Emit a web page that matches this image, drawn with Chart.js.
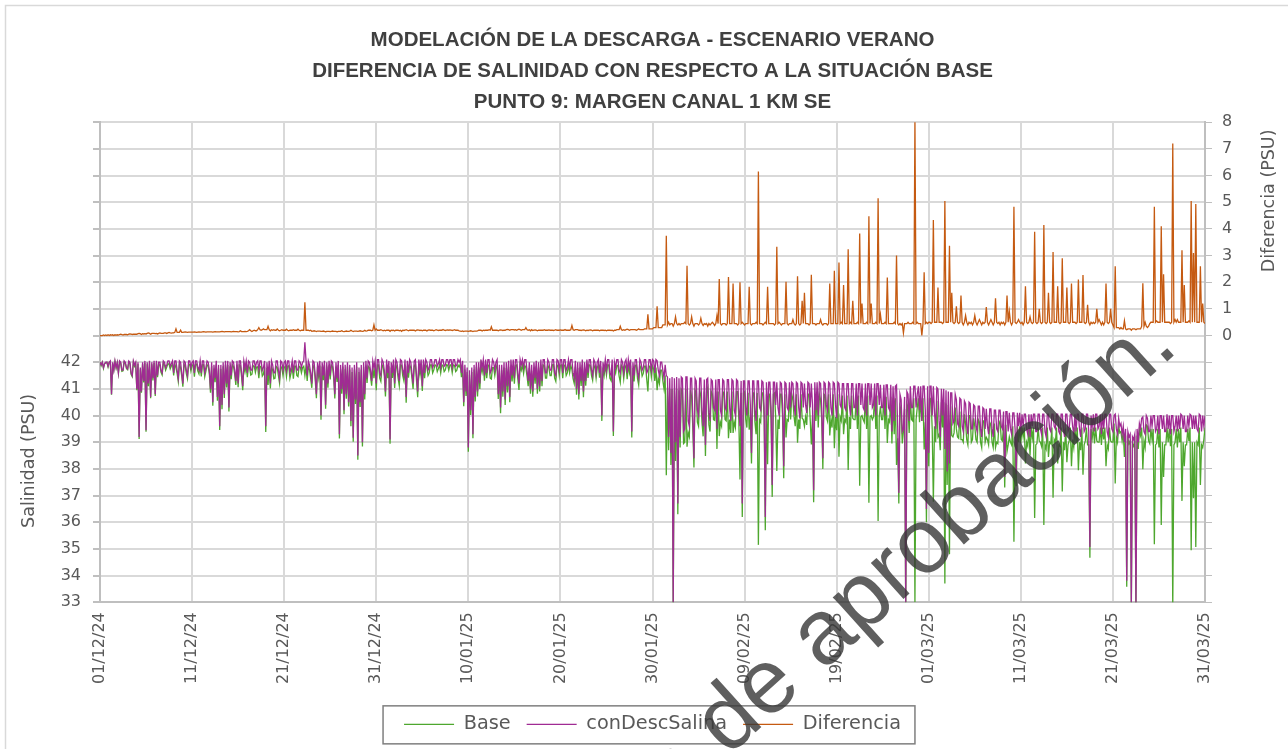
<!DOCTYPE html>
<html lang="es">
<head>
<meta charset="utf-8">
<title>Modelación de la descarga - Escenario verano</title>
<script src="https://cdn.jsdelivr.net/npm/chart.js@4.4.1/dist/chart.umd.min.js"></script>
<style>
  html, body { margin: 0; padding: 0; background: #fff; }
  #wrap { position: relative; width: 1288px; height: 749px; overflow: hidden; }
</style>
</head>
<body>
<div id="wrap"><canvas id="salinityChart" width="1288" height="749"></canvas></div>
<script>
// etiquetas del eje X, una cada 10 días desde el 01/12/24
const tickLabels = ['01/12/24', '11/12/24', '21/12/24', '31/12/24', '10/01/25', '20/01/25', '30/01/25',
  '09/02/25', '19/02/25', '01/03/25', '11/03/25', '21/03/25', '31/03/25'];

// salinidad con descarga (PSU), 8 valores por día (cada 3 h) desde el 01/12/24
const conDescDays = [
  // 01/12
  [42.0,41.9,42.0,41.8,41.95,42.0,42.0,41.85],[42.0,42.05,40.8,42.0,41.7,42.05,41.8,42.0],
  [41.6,42.05,42.0,41.7,41.7,42.05,42.0,41.8],[41.75,42.05,42.0,41.6,41.5,42.05,41.9,42.0],
  [41.0,42.0,39.2,41.8,40.9,42.0,41.3,42.05],[39.45,42.0,41.2,42.05,40.7,42.0,41.4,42.05],
  [40.8,42.05,41.5,42.0,42.0,41.7,41.6,42.05],[42.0,41.8,41.9,42.05,42.05,41.85,41.95,42.05],
  [41.6,42.05,42.05,41.7,41.4,42.05,42.0,41.6],[41.2,42.05,42.0,41.7,41.5,42.05,42.05,41.8],
  // 11/12
  [42.0,42.05,41.6,42.05,42.05,41.8,41.7,42.05],[41.6,42.05,42.05,41.6,41.8,42.05,42.0,41.7],
  [41.0,42.0,40.5,41.9,41.4,42.05,40.7,41.9],[39.6,41.9,40.4,42.0,40.8,42.05,41.2,42.05],
  [40.3,42.0,41.5,42.05,42.0,41.7,41.3,42.05],[41.2,42.05,42.05,41.6,41.1,42.05,41.8,42.05],
  [41.6,42.05,42.0,41.7,41.7,42.05,42.05,41.8],[42.0,42.05,41.7,42.05,42.05,41.7,41.8,42.05],
  [39.6,42.0,41.5,42.05,41.2,42.05,41.9,41.6],[41.6,42.05,42.05,41.7,41.4,42.05,42.0,41.7],
  // 21/12
  [42.0,42.05,41.7,42.05,42.05,41.6,41.8,42.05],[41.6,42.05,42.05,41.7,41.7,42.05,42.0,41.8],
  [42.0,42.05,42.75,42.05,41.5,42.05,41.9,41.6],[41.2,42.05,42.0,41.5,40.8,42.0,41.6,42.05],
  [40.0,42.0,41.5,42.05,40.4,42.0,41.2,42.05],[41.5,42.05,42.0,41.6,40.8,42.0,41.4,42.05],
  [39.3,41.9,41.0,42.0,40.2,41.9,40.8,42.0],[40.5,41.9,39.8,41.8,39.17,41.9,40.6,42.0],
  [38.5,41.8,40.5,41.9,39.0,42.0,40.8,42.05],[41.4,42.05,42.0,41.7,41.3,42.05,41.8,42.05],
  // 31/12
  [41.2,42.1,42.1,41.6,41.5,42.1,42.0,41.7],[40.9,42.1,41.6,42.05,39.1,42.0,41.6,42.1],
  [41.2,42.1,42.0,41.6,41.3,42.1,42.05,41.7],[41.5,42.1,40.7,42.05,41.6,42.1,42.0,41.6],
  [41.2,42.05,42.1,41.5,40.9,42.1,41.7,42.1],[41.1,42.1,41.6,42.1,42.0,41.7,41.8,42.1],
  [42.1,41.8,41.9,42.1,42.1,41.85,41.95,42.1],[41.8,42.1,42.1,41.85,41.9,42.1,42.1,41.9],
  [42.1,42.1,41.8,42.1,42.1,41.85,41.9,42.1],[42.0,42.1,41.6,42.05,40.5,41.9,40.9,41.8],
  // 10/01
  [38.8,41.7,40.2,41.8,39.3,41.9,40.7,42.0],[40.9,42.0,41.2,42.1,41.8,42.1,41.5,42.1],
  [41.6,42.1,42.1,41.6,41.7,42.1,42.0,41.7],[42.0,42.1,40.8,41.9,40.3,41.9,40.9,42.0],
  [40.6,42.0,41.1,42.05,40.7,42.1,41.5,42.1],[41.4,42.1,42.1,41.6,41.2,42.1,41.9,42.1],
  [41.8,42.1,42.1,41.7,41.3,42.0,41.0,41.9],[40.9,42.0,41.4,42.05,41.0,42.0,41.1,42.1],
  [41.3,42.1,42.1,41.6,41.6,42.1,42.0,41.7],[41.7,42.1,42.1,41.6,41.5,42.1,42.05,41.7],
  // 20/01
  [42.1,42.1,41.6,42.1,42.1,41.7,41.8,42.1],[41.8,42.1,42.1,41.6,41.4,42.05,41.0,42.0],
  [40.8,42.0,41.3,42.1,40.9,42.0,41.3,42.1],[41.6,42.1,42.1,41.7,41.5,42.1,42.0,41.6],
  [42.0,42.1,41.6,42.05,40.0,42.0,41.7,42.1],[41.7,42.1,42.1,41.6,41.5,42.1,39.4,42.0],
  [41.8,42.1,42.1,41.7,41.6,42.1,42.0,41.6],[42.0,42.1,41.6,42.1,41.8,42.1,39.4,42.0],
  [41.5,42.1,42.1,41.6,41.4,42.1,42.0,41.7],[41.8,42.1,42.1,41.6,41.7,42.1,42.1,41.7],
  // 30/01
  [42.1,42.05,41.6,42.1,42.05,41.7,41.5,42.0],[42.0,41.7,41.4,41.9,41.5,41.45,39.2,41.4],
  [38.6,41.45,33.0,41.4,39.0,41.45,36.7,41.4],[39.2,41.45,41.4,39.4,39.5,41.45,41.45,39.8],
  [39.6,41.4,41.4,40.0,38.4,41.4,41.3,40.2],[40.0,41.4,41.4,40.2,39.6,41.35,38.9,41.35],
  [41.4,40.1,39.8,41.35,41.3,40.3,40.2,41.35],[39.5,41.35,41.35,40.2,40.0,41.35,41.3,40.3],
  [40.2,41.35,41.35,40.3,39.8,41.35,41.3,40.2],[40.0,41.35,41.3,40.3,39.6,41.3,36.7,41.3],
  // 09/02
  [41.3,40.3,40.0,41.3,41.3,40.4,38.6,41.3],[41.3,40.2,39.8,41.3,41.3,40.3,40.2,41.3],
  [41.25,40.3,36.2,41.25,40.0,41.25,41.25,40.3],[37.4,41.25,41.25,40.4,41.25,40.3,40.0,41.25],
  [41.2,40.4,38.1,41.25,41.2,40.3,40.2,41.25],[40.3,41.25,41.2,40.4,40.0,41.25,41.2,40.3],
  [39.9,41.25,41.2,40.3,41.2,40.4,40.1,41.25],[41.2,40.3,41.2,40.4,37.2,41.25,40.2,41.25],
  [40.0,41.25,41.2,40.3,38.4,41.25,41.2,40.4],[40.2,41.25,41.2,40.3,40.0,41.25,41.2,40.4],
  // 19/02
  [39.9,41.25,41.2,40.4,40.3,41.2,41.2,40.3],[40.2,41.2,41.2,40.4,40.0,41.2,41.2,40.3],
  [40.3,41.2,40.0,41.2,41.2,40.4,41.2,40.3],[40.2,41.2,40.0,41.2,41.2,40.4,41.2,40.3],
  [40.4,41.2,40.0,41.2,41.2,40.4,41.15,40.3],[40.3,41.15,40.0,41.15,41.15,40.3,40.2,41.15],
  [39.4,41.1,39.8,41.1,41.15,39.6,37.1,40.8],[40.6,39.4,39.5,40.7,33.0,40.9,40.8,39.8],
  [41.1,40.3,40.3,41.1,41.1,40.3,40.8,41.1],[40.2,41.1,39.8,41.1,41.1,40.2,36.5,41.1],
  // 01/03
  [38.6,41.1,41.1,40.0,41.1,40.1,39.5,41.05],[41.0,39.8,39.2,41.0,40.0,41.0,38.75,40.95],
  [37.9,40.9,38.2,40.85,40.85,39.7,39.8,40.8],[40.6,39.7,39.6,40.65,40.6,39.6,39.4,40.55],
  [40.45,39.6,39.3,40.5,40.45,39.5,39.5,40.4],[40.35,39.6,39.4,40.35,40.35,39.5,39.2,40.3],
  [40.25,39.5,40.25,39.6,39.3,40.25,40.25,39.5],[39.2,40.2,40.2,39.5,39.4,40.2,40.2,39.6],
  [39.5,40.15,37.7,40.15,40.15,39.4,40.1,39.5],[39.3,40.1,40.1,39.5,37.8,40.1,39.6,40.1],
  // 11/03
  [39.4,40.05,39.6,40.05,40.05,39.5,39.3,40.05],[39.2,40.05,39.6,40.05,40.05,39.4,39.4,40.05],
  [40.05,39.5,39.3,40.05,40.05,39.4,39.2,40.05],[40.05,39.5,39.4,40.05,40.05,39.6,39.5,40.05],
  [40.05,39.4,39.3,40.05,40.05,39.5,39.2,40.05],[40.05,39.4,39.5,40.05,40.05,39.6,39.3,40.05],
  [39.4,40.05,40.05,39.5,39.2,40.05,40.05,39.4],[39.5,40.05,40.05,39.4,35.07,40.0,39.6,40.05],
  [39.4,40.05,40.05,39.5,39.6,40.05,39.3,40.05],[39.5,40.05,40.05,39.4,39.2,40.05,40.05,39.5],
  // 21/03
  [39.4,40.0,40.05,39.5,39.3,39.9,39.6,39.7],[39.3,39.6,39.0,39.5,33.8,39.4,39.2,39.3],
  [33.0,39.2,39.1,39.3,32.9,39.5,39.0,39.7],[39.5,39.9,39.95,39.4,39.3,40.0,39.9,39.4],
  [39.4,40.0,39.6,40.0,40.0,39.4,39.5,40.0],[39.3,40.0,40.0,39.5,40.0,39.4,39.4,40.05],
  [39.5,40.0,39.3,40.0,40.0,39.4,39.6,40.0],[39.4,40.0,39.5,40.05,40.0,39.5,40.0,39.4],
  [39.4,40.0,39.6,40.05,40.0,39.5,40.0,39.5],[40.0,39.5,39.4,40.05,40.0,39.4,40.0,39.6],
  // 31/03
  [40.0]
];

// salinidad situación base (PSU), mismos instantes
const baseDays = [
  // 01/12
  [42.0,41.87,42.0,41.77,41.95,41.97,42.0,41.82],[42.0,42.02,40.78,41.97,41.7,42.02,41.78,41.97],
  [41.58,42.01,41.95,41.66,41.68,42.01,41.96,41.76],[41.72,42.0,41.94,41.55,41.46,42.0,41.85,41.95],
  [40.95,41.93,39.12,41.73,40.86,41.93,41.24,41.98],[39.39,41.92,41.1,41.97,40.65,41.92,41.32,41.97],
  [40.73,41.97,41.44,41.92,41.9,41.62,41.52,41.97],[41.9,41.7,41.82,41.95,41.93,41.75,41.86,41.95],
  [41.5,41.93,41.8,41.58,41.28,41.93,41.8,41.48],[41.08,41.92,41.86,41.57,41.38,41.92,41.92,41.67],
  // 11/12
  [41.87,41.92,41.46,41.92,41.93,41.67,41.56,41.92],[41.47,41.91,41.9,41.46,41.67,41.91,41.86,41.56],
  [40.86,41.86,40.37,41.76,41.25,41.91,40.56,41.76],[39.46,41.75,40.24,41.85,40.66,41.9,41.05,41.9],
  [40.15,41.85,41.36,41.9,41.84,41.55,41.15,41.9],[41.06,41.9,41.87,41.45,40.95,41.9,41.64,41.9],
  [41.44,41.87,41.78,41.52,41.55,41.87,41.85,41.62],[41.82,41.83,41.4,41.83,41.85,41.48,41.55,41.83],
  [39.38,41.78,41.15,41.83,41.02,41.83,41.7,41.38],[41.4,41.85,41.8,41.5,41.22,41.85,41.78,41.5],
  // 21/12
  [41.8,41.85,41.46,41.85,41.87,41.4,41.6,41.85],[41.38,41.85,41.85,41.5,41.46,41.85,41.82,41.6],
  [41.8,41.85,41.5,41.85,41.3,41.85,41.72,41.4],[41.04,41.88,41.82,41.33,40.65,41.83,41.43,41.88],
  [39.84,41.84,41.33,41.89,40.26,41.84,41.04,41.89],[41.35,41.89,41.83,41.44,40.64,41.84,41.26,41.89],
  [39.14,41.74,40.82,41.84,40.05,41.74,40.63,41.84],[40.34,41.73,39.6,41.63,39.02,41.73,40.43,41.83],
  [38.34,41.63,40.32,41.73,38.84,41.83,40.6,41.88],[41.22,41.85,41.8,41.5,41.12,41.85,41.4,41.85],
  // 31/12
  [40.95,41.9,41.9,41.4,41.28,41.9,41.82,41.5],[40.72,41.9,41.4,41.85,38.94,41.8,41.41,41.9],
  [41.03,41.9,41.8,41.4,41.12,41.9,41.89,41.5],[41.31,41.9,40.48,41.85,41.42,41.9,41.8,41.4],
  [41.0,41.85,41.93,41.3,40.69,41.9,41.51,41.9],[40.92,41.9,41.4,41.9,41.83,41.5,41.59,41.9],
  [41.9,41.6,41.72,41.9,41.88,41.65,41.76,41.9],[41.6,41.9,41.87,41.65,41.71,41.9,41.89,41.7],
  [41.89,41.9,41.61,41.9,41.88,41.65,41.7,41.9],[41.82,41.93,41.44,41.88,40.35,41.73,40.73,41.63],
  // 10/01
  [38.64,41.53,40.02,41.63,39.15,41.73,40.53,41.83],[40.72,41.8,41.0,41.9,41.63,41.9,41.31,41.9],
  [41.4,41.9,41.88,41.4,41.37,41.8,41.8,41.5],[41.8,41.9,40.62,41.7,40.09,41.7,40.71,41.8],
  [40.4,41.78,40.87,41.83,40.5,41.88,41.28,41.88],[41.19,41.88,41.9,41.38,40.96,41.88,41.7,41.88],
  [41.58,41.88,41.8,41.48,41.1,41.78,40.82,41.68],[40.71,41.8,41.19,41.85,40.82,41.8,40.9,41.9],
  [41.1,41.9,41.88,41.4,41.4,41.9,41.79,41.5],[41.5,41.9,41.91,41.4,41.28,41.9,41.85,41.5],
  // 20/01
  [41.89,41.9,41.4,41.9,41.87,41.5,41.6,41.9],[41.6,41.88,41.72,41.38,41.2,41.83,40.78,41.78],
  [40.6,41.8,41.11,41.9,40.69,41.8,41.12,41.9],[41.41,41.9,41.89,41.5,41.32,41.9,41.8,41.4],
  [41.8,41.9,41.42,41.85,39.8,41.8,41.51,41.9],[41.52,41.9,41.9,41.4,41.31,41.9,39.23,41.8],
  [41.6,41.88,41.88,41.48,41.25,41.88,41.8,41.38],[41.8,41.88,41.36,41.88,41.6,41.88,39.18,41.78],
  [41.28,41.88,41.9,41.38,41.15,41.88,41.78,41.48],[41.58,41.85,41.85,41.35,40.9,41.85,41.85,41.45],
  // 30/01
  [41.85,41.75,41.3,41.8,40.95,41.4,41.2,41.7],[41.7,41.3,41.0,41.5,37.76,41.05,38.7,41.0],
  [38.15,41.0,32.65,40.95,38.3,41.0,36.3,40.95],[38.8,41.0,40.95,38.95,39.0,41.0,38.83,39.35],
  [39.2,40.95,40.7,39.55,38.05,40.95,40.85,39.75],[39.6,40.95,40.75,39.75,39.22,40.9,38.48,40.9],
  [41.05,39.65,39.4,40.9,40.8,39.85,39.82,40.9],[38.75,40.9,39.23,39.75,39.6,40.9,40.85,39.85],
  [39.8,40.9,39.15,39.85,39.35,40.9,39.35,39.75],[39.55,40.9,40.9,39.85,37.6,40.85,36.2,40.85],
  // 09/02
  [40.9,39.85,39.55,40.85,39.47,39.95,38.2,40.85],[40.85,39.75,39.3,40.85,35.15,39.85,39.75,40.85],
  [40.85,39.85,35.7,40.8,38.17,40.8,40.8,39.85],[36.95,40.8,40.85,39.95,37.92,39.85,39.5,40.8],
  [40.8,39.95,37.65,40.8,39.18,39.85,39.8,40.8],[39.85,40.8,40.6,39.95,39.6,40.8,38.98,39.85],
  [39.5,40.8,39.9,39.85,39.6,39.95,39.65,40.8],[40.8,39.85,38.92,39.95,36.75,40.8,39.8,40.8],
  [39.55,40.8,40.6,39.85,38.0,40.8,40.75,39.95],[39.8,40.8,39.25,39.85,39.55,40.8,38.77,39.95],
  // 19/02
  [39.45,40.8,38.46,39.95,39.8,40.75,39.3,39.85],[39.75,40.75,37.96,39.95,39.5,40.75,39.9,39.85],
  [39.85,40.75,39.5,40.75,37.37,39.95,40.0,39.85],[39.75,40.75,39.5,40.75,36.73,39.95,40.0,39.85],
  [39.95,40.75,39.5,40.75,36.05,39.95,40.35,39.85],[39.85,40.7,39.5,40.7,38.97,39.85,39.75,40.7],
  [38.95,40.65,39.3,40.65,38.15,39.15,36.7,40.35],[40.2,38.95,39.4,40.25,32.55,40.45,40.3,39.35],
  [40.65,39.85,39.8,40.65,33.0,39.85,40.3,40.65],[39.75,40.65,39.8,40.65,38.73,39.75,36.0,40.65],
  // 01/03
  [38.1,40.6,40.65,39.5,36.77,39.6,39.0,40.55],[39.2,39.3,38.7,40.5,39.55,40.5,33.7,40.45],
  [37.4,40.4,34.8,40.35,39.25,39.2,39.35,40.3],[39.5,39.2,39.15,40.15,39.1,39.1,39.0,40.05],
  [39.7,39.1,38.9,40.0,40.0,39.0,39.1,39.9],[39.6,39.1,39.0,39.85,39.75,39.0,38.8,39.8],
  [39.8,39.0,39.18,39.1,38.9,39.75,39.65,39.0],[38.8,39.7,38.8,39.0,38.95,39.7,39.8,39.1],
  [39.05,39.65,37.3,39.65,38.65,38.9,39.2,39.0],[38.9,39.6,35.27,39.0,37.35,39.6,39.0,39.6],
  // 11/03
  [38.95,39.55,39.2,39.55,38.2,39.0,38.85,39.55],[38.5,39.55,39.15,39.55,36.16,38.9,38.95,39.55],
  [39.05,39.0,38.85,39.55,35.9,38.9,38.75,39.55],[38.45,39.0,38.95,39.55,36.92,39.1,39.0,39.55],
  [38.2,38.9,38.85,39.55,37.15,39.0,38.7,39.55],[38.25,38.9,39.05,39.55,38.1,39.1,38.8,39.55],
  [38.95,39.55,37.95,39.0,38.7,39.55,37.78,38.9],[39.05,39.55,38.9,38.9,34.67,39.5,39.15,39.55],
  [38.95,39.55,39.05,39.0,39.0,39.55,38.9,39.55],[39.1,39.55,38.1,38.9,38.75,39.55,39.05,39.0],
  // 21/03
  [39.0,39.7,37.45,39.2,39.0,39.6,39.35,39.4],[39.05,39.35,38.45,39.25,33.58,39.15,38.95,39.05],
  [32.8,38.95,38.85,39.05,32.68,39.25,38.75,39.45],[39.25,39.55,37.99,39.05,38.8,39.65,39.6,39.05],
  [38.95,39.5,39.1,39.5,35.17,38.9,38.95,39.5],[38.8,39.5,35.9,39.0,37.7,38.9,38.9,39.55],
  [39.0,39.5,38.85,39.5,32.8,38.9,39.0,39.5],[38.8,39.5,39.0,39.55,36.8,39.0,38.1,38.9],
  [38.9,39.5,39.05,39.55,34.95,39.0,36.9,39.0],[35.07,39.0,38.9,39.55,37.4,38.9,38.8,39.1],
  // 31/03
  [39.55]
];

// diferencia conDescSalina - Base (PSU), eje secundario, mismos instantes
const diferenciaDays = [
  // 01/12
  [0.0,0.0,0.0,0.02,0.0,0.02,0.0,0.03],[0.0,0.03,0.02,0.03,0.0,0.03,0.02,0.03],
  [0.02,0.04,0.05,0.04,0.02,0.04,0.04,0.04],[0.03,0.05,0.06,0.05,0.04,0.05,0.05,0.05],
  [0.05,0.07,0.08,0.07,0.04,0.07,0.06,0.07],[0.06,0.08,0.1,0.08,0.05,0.08,0.08,0.08],
  [0.07,0.08,0.06,0.08,0.1,0.08,0.08,0.08],[0.1,0.1,0.08,0.1,0.12,0.1,0.09,0.1],
  [0.1,0.12,0.25,0.12,0.12,0.12,0.2,0.12],[0.12,0.13,0.14,0.13,0.12,0.13,0.13,0.13],
  // 11/12
  [0.13,0.13,0.14,0.13,0.12,0.13,0.14,0.13],[0.13,0.14,0.15,0.14,0.13,0.14,0.14,0.14],
  [0.14,0.14,0.13,0.14,0.15,0.14,0.14,0.14],[0.14,0.15,0.16,0.15,0.14,0.15,0.15,0.15],
  [0.15,0.15,0.14,0.15,0.16,0.15,0.15,0.15],[0.14,0.15,0.18,0.15,0.15,0.15,0.16,0.15],
  [0.16,0.18,0.22,0.18,0.15,0.18,0.2,0.18],[0.18,0.22,0.3,0.22,0.2,0.22,0.25,0.22],
  [0.22,0.22,0.35,0.22,0.18,0.22,0.2,0.22],[0.2,0.2,0.25,0.2,0.18,0.2,0.22,0.2],
  // 21/12
  [0.2,0.2,0.24,0.2,0.18,0.2,0.2,0.2],[0.22,0.2,0.2,0.2,0.24,0.2,0.18,0.2],
  [0.2,0.2,1.25,0.2,0.2,0.2,0.18,0.2],[0.16,0.17,0.18,0.17,0.15,0.17,0.17,0.17],
  [0.16,0.16,0.17,0.16,0.14,0.16,0.16,0.16],[0.15,0.16,0.17,0.16,0.16,0.16,0.14,0.16],
  [0.16,0.16,0.18,0.16,0.15,0.16,0.17,0.16],[0.16,0.17,0.2,0.17,0.15,0.17,0.17,0.17],
  [0.16,0.17,0.18,0.17,0.16,0.17,0.2,0.17],[0.18,0.2,0.2,0.2,0.18,0.2,0.4,0.2],
  // 31/12
  [0.25,0.2,0.2,0.2,0.22,0.2,0.18,0.2],[0.18,0.2,0.2,0.2,0.16,0.2,0.19,0.2],
  [0.17,0.2,0.2,0.2,0.18,0.2,0.16,0.2],[0.19,0.2,0.22,0.2,0.18,0.2,0.2,0.2],
  [0.2,0.2,0.17,0.2,0.21,0.2,0.19,0.2],[0.18,0.2,0.2,0.2,0.17,0.2,0.21,0.2],
  [0.2,0.2,0.18,0.2,0.22,0.2,0.19,0.2],[0.2,0.2,0.23,0.2,0.19,0.2,0.21,0.2],
  [0.21,0.2,0.19,0.2,0.22,0.2,0.2,0.2],[0.18,0.17,0.16,0.17,0.15,0.17,0.17,0.17],
  // 10/01
  [0.16,0.17,0.18,0.17,0.15,0.17,0.17,0.17],[0.18,0.2,0.2,0.2,0.17,0.2,0.19,0.2],
  [0.2,0.2,0.22,0.2,0.33,0.2,0.2,0.2],[0.2,0.2,0.18,0.2,0.21,0.2,0.19,0.2],
  [0.2,0.22,0.23,0.22,0.2,0.22,0.22,0.22],[0.21,0.22,0.2,0.22,0.24,0.22,0.2,0.22],
  [0.22,0.22,0.3,0.22,0.2,0.22,0.18,0.22],[0.19,0.2,0.21,0.2,0.18,0.2,0.2,0.2],
  [0.2,0.2,0.22,0.2,0.2,0.2,0.21,0.2],[0.2,0.2,0.19,0.2,0.22,0.2,0.2,0.2],
  // 20/01
  [0.21,0.2,0.2,0.2,0.23,0.2,0.2,0.2],[0.2,0.22,0.38,0.22,0.2,0.22,0.22,0.22],
  [0.2,0.2,0.19,0.2,0.21,0.2,0.18,0.2],[0.19,0.2,0.21,0.2,0.18,0.2,0.2,0.2],
  [0.2,0.2,0.18,0.2,0.2,0.2,0.19,0.2],[0.18,0.2,0.2,0.2,0.19,0.2,0.17,0.2],
  [0.2,0.22,0.22,0.22,0.35,0.22,0.2,0.22],[0.2,0.22,0.24,0.22,0.2,0.22,0.22,0.22],
  [0.22,0.22,0.2,0.22,0.25,0.22,0.22,0.22],[0.22,0.25,0.25,0.25,0.8,0.25,0.25,0.25],
  // 30/01
  [0.25,0.3,0.3,0.3,1.1,0.3,0.3,0.3],[0.3,0.4,0.4,0.4,3.74,0.4,0.5,0.4],
  [0.45,0.45,0.35,0.45,0.7,0.45,0.4,0.45],[0.4,0.45,0.45,0.45,0.5,0.45,2.62,0.45],
  [0.4,0.45,0.7,0.45,0.35,0.45,0.45,0.45],[0.4,0.45,0.65,0.45,0.38,0.45,0.42,0.45],
  [0.35,0.45,0.4,0.45,0.5,0.45,0.38,0.45],[0.75,0.45,2.12,0.45,0.4,0.45,0.45,0.45],
  [0.4,0.45,2.2,0.45,0.45,0.45,1.95,0.45],[0.45,0.45,0.4,0.45,2.0,0.45,0.5,0.45],
  // 09/02
  [0.4,0.45,0.45,0.45,1.83,0.45,0.4,0.45],[0.45,0.45,0.5,0.45,6.15,0.45,0.45,0.45],
  [0.4,0.45,0.5,0.45,1.83,0.45,0.45,0.45],[0.45,0.45,0.4,0.45,3.33,0.45,0.5,0.45],
  [0.4,0.45,0.45,0.45,2.02,0.45,0.4,0.45],[0.45,0.45,0.6,0.45,0.4,0.45,2.22,0.45],
  [0.4,0.45,1.3,0.45,1.6,0.45,0.45,0.45],[0.4,0.45,2.28,0.45,0.45,0.45,0.4,0.45],
  [0.45,0.45,0.6,0.45,0.4,0.45,0.45,0.45],[0.4,0.45,1.95,0.45,0.45,0.45,2.43,0.45],
  // 19/02
  [0.45,0.45,2.74,0.45,0.5,0.45,1.9,0.45],[0.45,0.45,3.24,0.45,0.5,0.45,1.3,0.45],
  [0.45,0.45,0.5,0.45,3.83,0.45,1.2,0.45],[0.45,0.45,0.5,0.45,4.47,0.45,1.2,0.45],
  [0.45,0.45,0.5,0.45,5.15,0.45,0.8,0.45],[0.45,0.45,0.5,0.45,2.18,0.45,0.45,0.45],
  [0.45,0.45,0.5,0.45,3.0,0.45,0.4,0.45],[0.4,0.45,0.1,0.45,0.45,0.45,0.5,0.45],
  [0.45,0.45,0.5,0.45,8.1,0.45,0.5,0.45],[0.45,0.45,0.0,0.45,2.37,0.45,0.5,0.45],
  // 01/03
  [0.5,0.5,0.45,0.5,4.33,0.5,0.5,0.5],[1.8,0.5,0.5,0.5,0.45,0.5,5.05,0.5],
  [0.5,0.5,3.37,0.5,1.6,0.5,0.45,0.5],[1.1,0.5,0.45,0.5,1.5,0.5,0.4,0.5],
  [0.75,0.5,0.4,0.5,0.45,0.5,0.4,0.5],[0.75,0.5,0.4,0.5,0.6,0.5,0.4,0.5],
  [0.45,0.5,1.07,0.5,0.4,0.5,0.6,0.5],[0.4,0.5,1.4,0.5,0.45,0.5,0.4,0.5],
  [0.45,0.5,0.4,0.5,1.5,0.5,0.9,0.5],[0.4,0.5,4.83,0.5,0.45,0.5,0.6,0.5],
  // 11/03
  [0.45,0.5,0.4,0.5,1.85,0.5,0.45,0.5],[0.7,0.5,0.45,0.5,3.89,0.5,0.45,0.5],
  [1.0,0.5,0.45,0.5,4.15,0.5,0.45,0.5],[1.6,0.5,0.45,0.5,3.13,0.5,0.5,0.5],
  [1.85,0.5,0.45,0.5,2.9,0.5,0.5,0.5],[1.8,0.5,0.45,0.5,1.95,0.5,0.5,0.5],
  [0.45,0.5,2.1,0.5,0.5,0.5,2.27,0.5],[0.45,0.5,1.15,0.5,0.4,0.5,0.45,0.5],
  [0.45,0.5,1.0,0.5,0.6,0.5,0.4,0.5],[0.4,0.5,1.95,0.5,0.45,0.5,1.0,0.5],
  // 21/03
  [0.4,0.3,2.6,0.3,0.3,0.3,0.25,0.3],[0.25,0.25,0.55,0.25,0.22,0.25,0.25,0.25],
  [0.2,0.25,0.25,0.25,0.22,0.25,0.25,0.25],[0.25,0.35,1.96,0.35,0.5,0.35,0.3,0.35],
  [0.45,0.5,0.5,0.5,4.83,0.5,0.55,0.5],[0.5,0.5,4.1,0.5,2.3,0.5,0.5,0.5],
  [0.5,0.5,0.45,0.5,7.2,0.5,0.6,0.5],[0.6,0.5,0.5,0.5,3.2,0.5,1.9,0.5],
  [0.5,0.5,0.55,0.5,5.05,0.5,3.1,0.5],[4.93,0.5,0.5,0.5,2.6,0.5,1.2,0.5],
  // 31/03
  [0.45]
];

// día (con fracción) -> punto
function toPoints(days) {
  const pts = [];
  days.forEach((vals, d) => {
    vals.forEach((v, j) => pts.push({ x: d + j / vals.length, y: v }));
  });
  return pts;
}

const gray = '#595959';

const extras = {
  id: 'extras',
  beforeDraw(chart) {
    const ctx = chart.ctx;
    ctx.save();
    ctx.fillStyle = '#ffffff';
    ctx.fillRect(0, 0, chart.width, chart.height);
    ctx.strokeStyle = '#d9d9d9';
    ctx.lineWidth = 1.5;
    ctx.strokeRect(5.5, 5.5, chart.width + 20, chart.height + 20);
    ctx.restore();
  },
  afterDraw(chart) {
    const ctx = chart.ctx;
    const { y, y1 } = chart.scales;

    // títulos de los ejes, centrados sobre su tramo con etiquetas
    ctx.save();
    ctx.fillStyle = gray;
    ctx.font = '17.5px "DejaVu Sans"';
    ctx.textAlign = 'center';
    ctx.textBaseline = 'middle';
    ctx.translate(29, y.getPixelForValue(38.3));
    ctx.rotate(-Math.PI / 2);
    ctx.fillText('Salinidad (PSU)', 0, 0);
    ctx.restore();

    ctx.save();
    ctx.fillStyle = gray;
    ctx.font = '17.5px "DejaVu Sans"';
    ctx.textAlign = 'center';
    ctx.textBaseline = 'middle';
    ctx.translate(1269, y1.getPixelForValue(5.05));
    ctx.rotate(-Math.PI / 2);
    ctx.fillText('Diferencia (PSU)', 0, 0);
    ctx.restore();

    // marco de la leyenda
    const boxes = chart.legend.legendHitBoxes;
    if (boxes && boxes.length) {
      const first = boxes[0];
      const last = boxes[boxes.length - 1];
      const mid = first.top + first.height / 2;
      ctx.save();
      ctx.strokeStyle = '#7f7f7f';
      ctx.lineWidth = 1.5;
      ctx.strokeRect(first.left - 21, mid - 18.5, last.left + last.width + 14 - (first.left - 21), 38);
      ctx.restore();
    }

    // marca de agua
    ctx.save();
    ctx.fillStyle = 'rgba(55, 55, 55, 0.8)';
    ctx.font = '92px "Liberation Sans"';
    ctx.textAlign = 'right';
    ctx.textBaseline = 'alphabetic';
    ctx.translate(1180, 350);
    ctx.rotate(-42 * Math.PI / 180);
    ctx.fillText('Pendiente de aprobación.', 0, 0);
    ctx.restore();
  }
};

const tickFont = { family: 'DejaVu Sans', size: 16 };

new Chart(document.getElementById('salinityChart'), {
  type: 'line',
  data: {
    datasets: [
      {
        label: 'Base',
        data: toPoints(baseDays),
        borderColor: '#4EA72E',
        backgroundColor: '#4EA72E',
        borderWidth: 1.3,
        yAxisID: 'y',
        order: 3
      },
      {
        label: 'conDescSalina',
        data: toPoints(conDescDays),
        borderColor: '#A02B93',
        backgroundColor: '#A02B93',
        borderWidth: 1.3,
        yAxisID: 'y',
        order: 2
      },
      {
        label: 'Diferencia',
        data: toPoints(diferenciaDays),
        borderColor: '#C55A11',
        backgroundColor: '#C55A11',
        borderWidth: 1.3,
        yAxisID: 'y1',
        order: 1
      }
    ]
  },
  options: {
    responsive: false,
    animation: false,
    parsing: false,
    normalized: true,
    layout: { autoPadding: false, padding: { left: 0, right: 0, top: 0, bottom: 5 } },
    elements: {
      point: { radius: 0 },
      line: { tension: 0 }
    },
    scales: {
      x: {
        type: 'linear',
        min: 0,
        max: 120,
        afterFit: s => { s.height = 96.5; },
        ticks: {
          stepSize: 10,
          autoSkip: false,
          maxRotation: 90,
          minRotation: 90,
          padding: 10,
          color: gray,
          font: tickFont,
          callback: v => tickLabels[Math.round(v / 10)]
        },
        grid: { color: '#d9d9d9', lineWidth: 2, drawTicks: false },
        border: { color: '#bfbfbf', width: 2 }
      },
      y: {
        position: 'left',
        min: 33,
        max: 51,
        afterFit: s => { s.width = 100; },
        ticks: {
          stepSize: 1,
          autoSkip: false,
          padding: 12,
          color: gray,
          font: tickFont,
          callback: v => (v <= 42 ? v : '')
        },
        grid: { color: '#d9d9d9', lineWidth: 2, tickLength: 7, tickColor: '#bfbfbf' },
        border: { color: '#bfbfbf', width: 2 }
      },
      y1: {
        position: 'right',
        min: -10,
        max: 8,
        afterFit: s => { s.width = 83; },
        ticks: {
          stepSize: 1,
          autoSkip: false,
          padding: 10,
          color: gray,
          font: tickFont,
          callback: v => (v >= 0 ? v : '')
        },
        grid: { drawOnChartArea: false, tickLength: 7, tickColor: '#bfbfbf' },
        border: { color: '#bfbfbf', width: 2 }
      }
    },
    plugins: {
      title: {
        display: true,
        fullSize: false,
        text: [
          'MODELACIÓN DE LA DESCARGA - ESCENARIO VERANO',
          'DIFERENCIA DE SALINIDAD CON RESPECTO A LA SITUACIÓN BASE',
          'PUNTO 9: MARGEN CANAL 1 KM SE'
        ],
        color: '#404040',
        font: { family: 'Liberation Sans', size: 20.5, weight: 'bold', lineHeight: 1.5 },
        padding: { top: 25, bottom: 5 }
      },
      legend: {
        position: 'bottom',
        fullSize: false,
        labels: {
          usePointStyle: true,
          pointStyle: 'line',
          pointStyleWidth: 50,
          padding: 16,
          color: gray,
          font: { family: 'DejaVu Sans', size: 19.3 },
          sort: (a, b) => a.datasetIndex - b.datasetIndex
        }
      },
      tooltip: { enabled: false }
    }
  },
  plugins: [extras]
});
</script>
</body>
</html>
